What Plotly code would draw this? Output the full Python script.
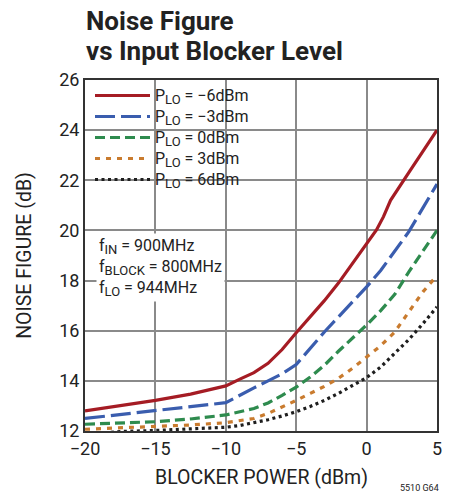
import plotly.graph_objects as go

# ---- data ----
x_red = [-20, -17.5, -15, -12.5, -10, -9, -8, -7, -6, -5, -4, -3, -2, -1, 0, 0.7, 1.2, 1.7, 3.1, 5]
y_red = [12.8, 13.0, 13.22, 13.47, 13.8, 14.07, 14.33, 14.7, 15.25, 15.92, 16.55, 17.2, 17.9, 18.7, 19.48, 20.02, 20.55, 21.2, 22.4, 24.0]

x_blue = [-20, -17.5, -15, -12.5, -10, -8, -6, -5, -4, -3, -2, -1, 0, 1, 2, 3, 4, 5]
y_blue = [12.5, 12.66, 12.82, 12.97, 13.13, 13.72, 14.28, 14.65, 15.3, 15.95, 16.55, 17.15, 17.75, 18.4, 19.2, 19.95, 20.9, 21.85]

x_green = [-20, -17.5, -15, -12.5, -10, -8, -7, -6, -5, -4, -3, -2, -1, 0, 1, 2, 3, 4, 5]
y_green = [12.27, 12.31, 12.37, 12.48, 12.64, 12.9, 13.12, 13.42, 13.75, 14.15, 14.62, 15.18, 15.7, 16.23, 16.8, 17.45, 18.35, 19.2, 20.0]

x_orange = [-20, -17.5, -15, -12.5, -10, -8, -7, -6, -5, -4, -3, -2, -1, 0, 1, 2, 3, 4, 5]
y_orange = [12.07, 12.12, 12.17, 12.24, 12.33, 12.5, 12.7, 12.95, 13.22, 13.5, 13.78, 14.1, 14.5, 14.95, 15.4, 15.95, 16.75, 17.55, 18.2]

x_black = [-20, -17.5, -15, -12.5, -10, -9, -8, -7, -6, -5, -4, -3, -2, -1, 0, 1, 2, 3, 4, 5]
y_black = [11.85, 11.98, 12.02, 12.07, 12.15, 12.22, 12.32, 12.45, 12.6, 12.77, 12.98, 13.22, 13.5, 13.8, 14.13, 14.55, 15.08, 15.65, 16.28, 16.95]

plo_values = ["\u22126dBm", "\u22123dBm", "0dBm", "3dBm", "6dBm"]

x_ticks = [-20, -15, -10, -5, 0, 5]
y_ticks = [12, 14, 16, 18, 20, 22, 24, 26]

FONT = "Roboto, Liberation Sans, sans-serif"


def sub(s, size=13):
    return "<sub><span style='font-size:%dpx'>%s</span></sub>" % (size, s)


series_names = ["<span style='font-size:16px'>P%s = %s</span>" % (sub("LO"), v) for v in plo_values]

styles = [
    dict(color="#A51C24", dash="solid"),
    dict(color="#3A5DAE", dash="20px,6px"),
    dict(color="#2E8B4E", dash="10px,5px"),
    dict(color="#C97B2E", dash="5px,6px"),
    dict(color="#1E1E1E", dash="3px,3.5px"),
]

fig = go.Figure()
for (xs, ys), name, st in zip([(x_red, y_red), (x_blue, y_blue), (x_green, y_green),
                               (x_orange, y_orange), (x_black, y_black)], series_names, styles):
    fig.add_trace(go.Scatter(x=xs, y=ys, mode="lines", name=name,
                             line=dict(color=st["color"], dash=st["dash"], width=3.2)))

fig.update_layout(
    width=451, height=492,
    margin=dict(l=85, r=14, t=80, b=61, autoexpand=False),
    paper_bgcolor="white", plot_bgcolor="white",
    font=dict(family=FONT, size=16, color="#222"),
    showlegend=True,
    legend=dict(x=5 / 352, y=1.0, xanchor="left", yanchor="top", bgcolor="rgba(255,255,255,0)",
                borderwidth=0, font=dict(size=13.85, family=FONT, color="#222"),
                itemwidth=55, tracegroupgap=0),
    xaxis=dict(range=[-20, 5], tickvals=x_ticks, showgrid=True, gridcolor="#8a8a8a", gridwidth=1.5,
               showline=True, mirror=True, linecolor="#333", linewidth=2, zeroline=False,
               ticks="", tickfont=dict(size=18, family=FONT, color="#222"), automargin=False),
    yaxis=dict(range=[12, 26], tickvals=y_ticks, showgrid=True, gridcolor="#8a8a8a", gridwidth=1.5,
               showline=True, mirror=True, linecolor="#333", linewidth=2, zeroline=False,
               ticks="", tickfont=dict(size=18, family=FONT, color="#222"), automargin=False,
               title=dict(text="NOISE FIGURE (dB)", font=dict(size=19.5, family=FONT, color="#222"), standoff=22)),
)

# x-axis title as a paper annotation (keeps the plot area fixed)
fig.add_annotation(text="BLOCKER POWER (dBm)", xref="paper", yref="paper", x=0.5, y=-(477 - 431) / 351,
                   xanchor="center", yanchor="middle", showarrow=False,
                   font=dict(size=19.5, family=FONT, color="#222"))

# white panel behind the legend (hides the gridlines like the reference)
fig.add_shape(type="rect", xref="paper", yref="paper", x0=0.003, x1=(268 - 85) / 352,
              y0=(431 - 192) / 351, y1=0.997, fillcolor="white", line=dict(width=0), layer="below")

# title (two lines)
fig.add_annotation(text="<b>Noise Figure</b>", xref="paper", yref="paper", x=0, y=1 + (80 - 21) / 351,
                   xanchor="left", yanchor="middle", showarrow=False, xshift=-1,
                   font=dict(size=26, family=FONT, color="#222"))
fig.add_annotation(text="<b>vs Input Blocker Level</b>", xref="paper", yref="paper", x=0, y=1 + (80 - 51) / 351,
                   xanchor="left", yanchor="middle", showarrow=False, xshift=-1,
                   font=dict(size=26, family=FONT, color="#222"))

# conditions box
fig.add_annotation(text="f%s = 900MHz<br>f%s = 800MHz<br>f%s = 944MHz" % (sub("IN"), sub("BLOCK"), sub("LO")),
                   xref="paper", yref="paper", x=(96 - 85) / 352, y=(431 - 233) / 351,
                   xanchor="left", yanchor="top", align="left", showarrow=False,
                   bgcolor="white", borderpad=2,
                   font=dict(size=16, family=FONT, color="#222"))

# figure code
fig.add_annotation(text="5510 G64", xref="paper", yref="paper", x=1, y=-57 / 351,
                   xanchor="right", yanchor="middle", showarrow=False, xshift=4,
                   font=dict(size=9, family=FONT, color="#222"))

fig.write_html("out.html", config={"displayModeBar": False},
               post_script="document.body.style.margin='0px';")
